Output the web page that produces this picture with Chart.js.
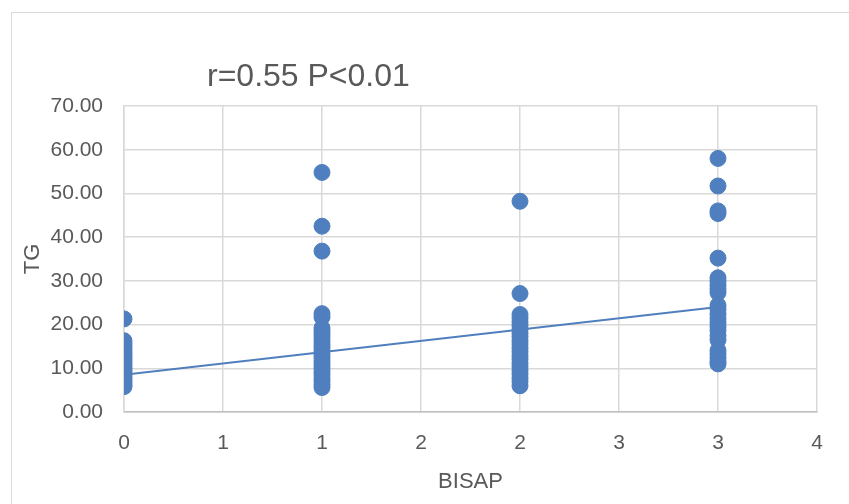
<!DOCTYPE html>
<html>
<head>
<meta charset="utf-8">
<script src="https://cdn.jsdelivr.net/npm/chart.js@4/dist/chart.umd.min.js"></script>
<style>
  body { margin: 0; background: #fff; overflow: hidden; }
  #wrap { position: relative; width: 849px; height: 504px; }
  #frame { position: absolute; left: 11px; top: 12px; width: 900px; height: 600px; border: 1.5px solid #d9d9d9; }
  #title { position: absolute; left: 207px; top: 57px; font: 32px "Liberation Sans", Arial, sans-serif; color: #595959; white-space: nowrap; }
  canvas { position: absolute; left: 0; top: 0; }
</style>
</head>
<body>
<div id="wrap">
  <div id="frame"></div>
  <canvas id="chart" width="849" height="504"></canvas>
  <div id="title">r=0.55 P&lt;0.01</div>
</div>
<script>
// TG values read per BISAP score
let tg0 = [21.3, 16.3, 15.6, 14.9, 14.2, 13.5, 12.9, 12.3, 11.7, 11.1, 10.5, 9.9, 9.3, 8.7, 8.1, 7.5, 6.9, 6.3, 5.8];
let tg1 = [54.8, 42.5, 36.8, 22.5, 21.7, 19.2, 18.5, 17.7, 17.0, 16.2, 15.4, 14.7, 13.9, 13.1, 12.4, 11.6, 10.8, 10.1, 9.3, 8.6, 7.8, 7.1, 6.3, 5.6];
let tg2 = [48.2, 27.1, 22.3, 21.5, 20.6, 19.8, 18.9, 18.0, 17.2, 16.3, 15.5, 14.6, 13.8, 12.9, 12.1, 11.2, 10.4, 9.5, 8.7, 7.8, 7.0, 6.0];
let tg3 = [58.0, 51.7, 46.0, 45.4, 35.2, 30.7, 29.9, 29.0, 28.1, 27.3, 24.4, 23.5, 22.4, 21.4, 20.5, 19.6, 18.7, 17.5, 16.5, 14.1, 13.3, 12.4, 11.5, 11.0];
let bisapScores = [0, 1, 2, 3];

// linear trend end points
let trendX = [0, 3];
let trendY = [8.5, 24.0];

// excel rounds the 0.5 steps to whole numbers
let xTickLabels = ['0', '1', '1', '2', '2', '3', '3', '4'];

let blue = '#4f7fbe';
let grey = '#595959';
let tickFont = { family: '"Liberation Sans", Arial, sans-serif', size: 21 };
let titleFont = { family: '"Liberation Sans", Arial, sans-serif', size: 22 };

let points = [];
[tg0, tg1, tg2, tg3].forEach((arr, i) => {
    arr.forEach(v => points.push({ x: bisapScores[i], y: v }));
});
let trend = trendX.map((x, i) => ({ x: x, y: trendY[i] }));

new Chart(document.getElementById('chart'), {
    type: 'scatter',
    data: {
        datasets: [{
            label: 'TG',
            data: points,
            backgroundColor: blue,
            borderColor: blue,
            pointRadius: 8,
            pointHoverRadius: 8
        }, {
            type: 'line',
            label: 'trend',
            data: trend,
            borderColor: blue,
            borderWidth: 2,
            pointRadius: 0,
            fill: false
        }]
    },
    options: {
        responsive: false,
        animation: false,
        events: [],
        layout: { padding: { left: 12, right: 32, top: 106, bottom: 0 } },
        plugins: {
            legend: { display: false },
            tooltip: { enabled: false },
            title: { display: false }
        },
        scales: {
            x: {
                type: 'linear',
                min: 0,
                max: 3.5,
                grid: { color: '#d9d9d9', lineWidth: 1.5, drawTicks: false },
                border: { color: '#bfbfbf', width: 1.5 },
                ticks: {
                    stepSize: 0.5,
                    padding: 19,
                    color: grey,
                    font: tickFont,
                    callback: (v, i) => xTickLabels[i]
                },
                title: { display: true, text: 'BISAP', color: grey, font: titleFont, padding: { top: 0, bottom: 9 } },
                afterFit: s => { s.height = 92; }
            },
            y: {
                min: 0,
                max: 70,
                grid: { color: '#d9d9d9', lineWidth: 1.5, drawTicks: false },
                border: { color: '#d9d9d9', width: 1.5 },
                ticks: {
                    stepSize: 10,
                    padding: 21,
                    color: grey,
                    font: tickFont,
                    callback: v => v.toFixed(2)
                },
                title: { display: true, text: 'TG', color: grey, font: titleFont, padding: { top: 8, bottom: 0 } },
                afterFit: s => { s.width = 112; }
            }
        }
    }
});
</script>
</body>
</html>
